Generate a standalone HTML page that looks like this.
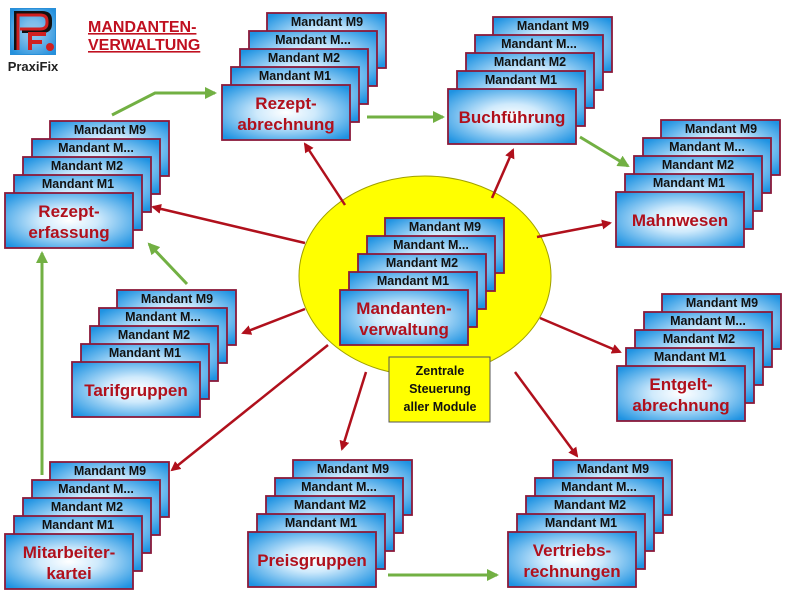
<!DOCTYPE html>
<html><head><meta charset="utf-8"><style>
html,body{margin:0;padding:0;background:#fff;width:806px;height:605px;overflow:hidden}
svg text{font-family:"Liberation Sans",sans-serif;font-weight:bold}
.l{font-size:12.5px;fill:#111;text-anchor:middle}
.m{font-size:17px;fill:#b0101c;text-anchor:middle}
</style></head><body>
<svg width="806" height="605" viewBox="0 0 806 605" xmlns="http://www.w3.org/2000/svg">
<defs>
<radialGradient id="g" cx="50%" cy="50%" r="65%">
<stop offset="0" stop-color="#ffffff"/><stop offset="0.35" stop-color="#cfeafc"/><stop offset="1" stop-color="#1f93e2"/>
</radialGradient>
<marker id="ar" markerWidth="10" markerHeight="10" refX="8" refY="5" orient="auto" markerUnits="userSpaceOnUse"><path d="M0,0 L10,5 L0,10 z" fill="#b0101c"/></marker>
<marker id="ag" markerWidth="12" markerHeight="12" refX="10" refY="6" orient="auto" markerUnits="userSpaceOnUse"><path d="M0,0 L12,6 L0,12 z" fill="#72b043"/></marker>
</defs>

<!-- logo -->
<rect x="10" y="8" width="46" height="47" fill="#2a8fd8"/>
<rect x="11" y="9" width="44" height="45" fill="url(#g)" opacity="0.5"/>
<path d="M16,50 V13 H42 Q50,13 50,20 V24 Q50,31 42,31 H22" fill="none" stroke="#111" stroke-width="4"/>
<path d="M18,50 V15 H40 Q47,15 47,21 V23 Q47,29 40,29 H20" fill="none" stroke="#d02020" stroke-width="3"/>
<path d="M30,50 V34 H46 M30,42 H42" fill="none" stroke="#d02020" stroke-width="4"/>
<circle cx="50" cy="47" r="4" fill="#d02020"/>
<text x="33" y="71" font-size="13" text-anchor="middle" fill="#222">PraxiFix</text>

<text x="88" y="32" font-size="16" fill="#c01020" text-decoration="underline">MANDANTEN-</text>
<text x="88" y="50" font-size="16" fill="#c01020" text-decoration="underline">VERWALTUNG</text>

<!-- ellipse -->
<ellipse cx="425" cy="276" rx="126" ry="100" fill="#ffff00" stroke="#a0a000" stroke-width="1"/>

<!-- red arrows -->
<g stroke="#b0101c" stroke-width="2.5" fill="none" marker-end="url(#ar)">
<line x1="305" y1="243" x2="153" y2="207"/>
<line x1="345" y1="205" x2="305" y2="144"/>
<line x1="492" y1="198" x2="513" y2="150"/>
<line x1="537" y1="237" x2="610" y2="223"/>
<line x1="540" y1="318" x2="620" y2="352"/>
<line x1="305" y1="309" x2="243" y2="333"/>
<line x1="328" y1="345" x2="172" y2="470"/>
<line x1="366" y1="372" x2="342" y2="449"/>
<line x1="515" y1="372" x2="577" y2="456"/>
</g>
<!-- green arrows -->
<g stroke="#72b043" stroke-width="3" fill="none" marker-end="url(#ag)">
<polyline points="112,115 155,93 215,93"/>
<line x1="367" y1="117" x2="443" y2="117"/>
<line x1="580" y1="137" x2="628" y2="166"/>
<line x1="187" y1="284" x2="149" y2="244"/>
<line x1="42" y1="475" x2="42" y2="253"/>
<line x1="388" y1="575" x2="497" y2="575"/>
</g>

<rect x="389" y="357" width="101" height="65" fill="#ffff00" stroke="#555" stroke-width="1"/>
<text x="440" y="375" font-size="12.5" text-anchor="middle" fill="#111">Zentrale</text>
<text x="440" y="393" font-size="12.5" text-anchor="middle" fill="#111">Steuerung</text>
<text x="440" y="411" font-size="12.5" text-anchor="middle" fill="#111">aller Module</text>

<!-- stacks -->
<g transform="translate(5,193)"><g fill="url(#g)" stroke="#8b1a3a" stroke-width="1.8">
<rect x="45" y="-72" width="119" height="55"/><rect x="27" y="-54" width="128" height="55"/><rect x="18" y="-36" width="128" height="55"/><rect x="9" y="-18" width="128" height="55"/><rect x="0" y="0" width="128" height="55"/></g>
<text class="l" x="105" y="-59">Mandant M9</text><text class="l" x="91" y="-41">Mandant M...</text><text class="l" x="82" y="-23">Mandant M2</text><text class="l" x="73" y="-5">Mandant M1</text>
<text class="m" x="64" y="24">Rezept-</text><text class="m" x="64" y="45">erfassung</text></g>

<g transform="translate(222,85)"><g fill="url(#g)" stroke="#8b1a3a" stroke-width="1.8">
<rect x="45" y="-72" width="119" height="55"/><rect x="27" y="-54" width="128" height="55"/><rect x="18" y="-36" width="128" height="55"/><rect x="9" y="-18" width="128" height="55"/><rect x="0" y="0" width="128" height="55"/></g>
<text class="l" x="105" y="-59">Mandant M9</text><text class="l" x="91" y="-41">Mandant M...</text><text class="l" x="82" y="-23">Mandant M2</text><text class="l" x="73" y="-5">Mandant M1</text>
<text class="m" x="64" y="24">Rezept-</text><text class="m" x="64" y="45">abrechnung</text></g>

<g transform="translate(448,89)"><g fill="url(#g)" stroke="#8b1a3a" stroke-width="1.8">
<rect x="45" y="-72" width="119" height="55"/><rect x="27" y="-54" width="128" height="55"/><rect x="18" y="-36" width="128" height="55"/><rect x="9" y="-18" width="128" height="55"/><rect x="0" y="0" width="128" height="55"/></g>
<text class="l" x="105" y="-59">Mandant M9</text><text class="l" x="91" y="-41">Mandant M...</text><text class="l" x="82" y="-23">Mandant M2</text><text class="l" x="73" y="-5">Mandant M1</text>
<text class="m" x="64" y="34">Buchführung</text></g>

<g transform="translate(616,192)"><g fill="url(#g)" stroke="#8b1a3a" stroke-width="1.8">
<rect x="45" y="-72" width="119" height="55"/><rect x="27" y="-54" width="128" height="55"/><rect x="18" y="-36" width="128" height="55"/><rect x="9" y="-18" width="128" height="55"/><rect x="0" y="0" width="128" height="55"/></g>
<text class="l" x="105" y="-59">Mandant M9</text><text class="l" x="91" y="-41">Mandant M...</text><text class="l" x="82" y="-23">Mandant M2</text><text class="l" x="73" y="-5">Mandant M1</text>
<text class="m" x="64" y="34">Mahnwesen</text></g>

<g transform="translate(340,290)"><g fill="url(#g)" stroke="#8b1a3a" stroke-width="1.8">
<rect x="45" y="-72" width="119" height="55"/><rect x="27" y="-54" width="128" height="55"/><rect x="18" y="-36" width="128" height="55"/><rect x="9" y="-18" width="128" height="55"/><rect x="0" y="0" width="128" height="55"/></g>
<text class="l" x="105" y="-59">Mandant M9</text><text class="l" x="91" y="-41">Mandant M...</text><text class="l" x="82" y="-23">Mandant M2</text><text class="l" x="73" y="-5">Mandant M1</text>
<text class="m" x="64" y="24">Mandanten-</text><text class="m" x="64" y="45">verwaltung</text></g>

<g transform="translate(72,362)"><g fill="url(#g)" stroke="#8b1a3a" stroke-width="1.8">
<rect x="45" y="-72" width="119" height="55"/><rect x="27" y="-54" width="128" height="55"/><rect x="18" y="-36" width="128" height="55"/><rect x="9" y="-18" width="128" height="55"/><rect x="0" y="0" width="128" height="55"/></g>
<text class="l" x="105" y="-59">Mandant M9</text><text class="l" x="91" y="-41">Mandant M...</text><text class="l" x="82" y="-23">Mandant M2</text><text class="l" x="73" y="-5">Mandant M1</text>
<text class="m" x="64" y="34">Tarifgruppen</text></g>

<g transform="translate(617,366)"><g fill="url(#g)" stroke="#8b1a3a" stroke-width="1.8">
<rect x="45" y="-72" width="119" height="55"/><rect x="27" y="-54" width="128" height="55"/><rect x="18" y="-36" width="128" height="55"/><rect x="9" y="-18" width="128" height="55"/><rect x="0" y="0" width="128" height="55"/></g>
<text class="l" x="105" y="-59">Mandant M9</text><text class="l" x="91" y="-41">Mandant M...</text><text class="l" x="82" y="-23">Mandant M2</text><text class="l" x="73" y="-5">Mandant M1</text>
<text class="m" x="64" y="24">Entgelt-</text><text class="m" x="64" y="45">abrechnung</text></g>

<g transform="translate(5,534)"><g fill="url(#g)" stroke="#8b1a3a" stroke-width="1.8">
<rect x="45" y="-72" width="119" height="55"/><rect x="27" y="-54" width="128" height="55"/><rect x="18" y="-36" width="128" height="55"/><rect x="9" y="-18" width="128" height="55"/><rect x="0" y="0" width="128" height="55"/></g>
<text class="l" x="105" y="-59">Mandant M9</text><text class="l" x="91" y="-41">Mandant M...</text><text class="l" x="82" y="-23">Mandant M2</text><text class="l" x="73" y="-5">Mandant M1</text>
<text class="m" x="64" y="24">Mitarbeiter-</text><text class="m" x="64" y="45">kartei</text></g>

<g transform="translate(248,532)"><g fill="url(#g)" stroke="#8b1a3a" stroke-width="1.8">
<rect x="45" y="-72" width="119" height="55"/><rect x="27" y="-54" width="128" height="55"/><rect x="18" y="-36" width="128" height="55"/><rect x="9" y="-18" width="128" height="55"/><rect x="0" y="0" width="128" height="55"/></g>
<text class="l" x="105" y="-59">Mandant M9</text><text class="l" x="91" y="-41">Mandant M...</text><text class="l" x="82" y="-23">Mandant M2</text><text class="l" x="73" y="-5">Mandant M1</text>
<text class="m" x="64" y="34">Preisgruppen</text></g>

<g transform="translate(508,532)"><g fill="url(#g)" stroke="#8b1a3a" stroke-width="1.8">
<rect x="45" y="-72" width="119" height="55"/><rect x="27" y="-54" width="128" height="55"/><rect x="18" y="-36" width="128" height="55"/><rect x="9" y="-18" width="128" height="55"/><rect x="0" y="0" width="128" height="55"/></g>
<text class="l" x="105" y="-59">Mandant M9</text><text class="l" x="91" y="-41">Mandant M...</text><text class="l" x="82" y="-23">Mandant M2</text><text class="l" x="73" y="-5">Mandant M1</text>
<text class="m" x="64" y="24">Vertriebs-</text><text class="m" x="64" y="45">rechnungen</text></g>
</svg>
</body></html>
